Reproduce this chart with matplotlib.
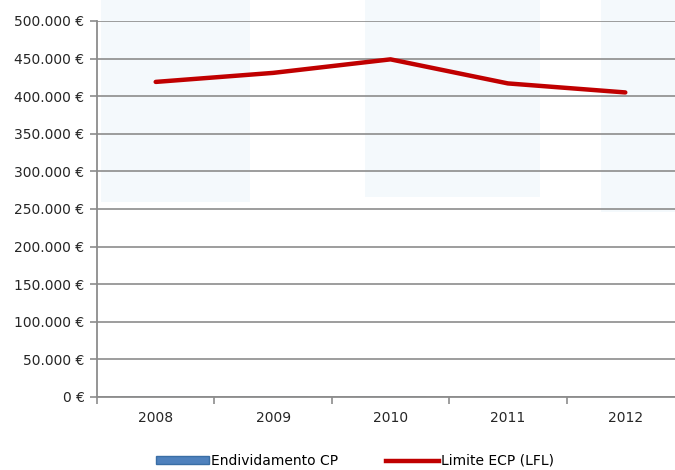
import numpy as np
import matplotlib.pyplot as plt
from matplotlib.patches import Rectangle
from matplotlib.lines import Line2D

anos = ['2008', '2009', '2010', '2011', '2012']
endividamento_cp = [0, 0, 0, 0, 0]
limite_ecp = [419000, 431000, 449000, 417000, 405000]
yticks = np.arange(0, 500001, 50000)

plt.rcParams['font.family'] = ['DejaVu Sans']
cinza = '#8c8c8c'

fig = plt.figure(figsize=(6.75, 4.70), dpi=100)

# faint watermark in the background
bg = fig.add_axes([0, 0, 1, 1], zorder=-1)
bg.set_axis_off()
bg.set_xlim(0, 1)
bg.set_ylim(0, 1)
for (x0, y0, w, h) in [(0.15, 0.57, 0.22, 0.43), (0.54, 0.58, 0.26, 0.42), (0.89, 0.55, 0.11, 0.45)]:
    bg.add_patch(Rectangle((x0, y0), w, h, facecolor='#f4f9fc', edgecolor='none'))

ax = fig.add_axes([97/675, 73/470, 587/675, 376/470])
ax.patch.set_alpha(0)

x = np.arange(len(anos))
ax.bar(x, endividamento_cp, width=0.6, color='#4f81bd', edgecolor='#3a6ea5')
ax.plot(x, limite_ecp, color='#c00000', lw=3.2, solid_capstyle='round', zorder=3)

ax.set_xlim(-0.5, len(anos) - 0.5)
ax.set_ylim(0, 500000)
ax.set_yticks(yticks)
ax.set_yticklabels([('{:,.0f}'.format(v)).replace(',', '.') + ' €' for v in yticks], fontsize=10, color='#262626')
ax.set_xticks(x)
ax.set_xticklabels(anos, fontsize=10, color='#262626')
ax.set_xticks(np.arange(-0.5, len(anos)), minor=True)
ax.tick_params(axis='x', which='major', length=0, pad=10)
ax.tick_params(axis='x', which='minor', length=5, color=cinza, width=1.2)
ax.tick_params(axis='y', length=5, color=cinza, width=1.2, pad=4)

ax.grid(axis='y', color=cinza, lw=1.2)
ax.set_axisbelow(True)
for s in ['top', 'right']:
    ax.spines[s].set_visible(False)
ax.spines['left'].set_color(cinza)
ax.spines['left'].set_linewidth(1.3)
ax.spines['bottom'].set_color(cinza)
ax.spines['bottom'].set_linewidth(1.3)

handles = [Rectangle((0, 0), 1, 1, facecolor='#4f81bd', edgecolor='#3a6ea5'),
           Line2D([0], [0], color='#c00000', lw=3.2)]
fig.legend(handles, ['Endividamento CP', 'Limite ECP (LFL)'], loc='center',
           bbox_to_anchor=(355/675, 1 - 461/470), ncol=2, frameon=False, fontsize=10,
           handlelength=3.8, handleheight=0.5, handletextpad=0.1, columnspacing=3.5)

fig.savefig('out.png', dpi=100)
